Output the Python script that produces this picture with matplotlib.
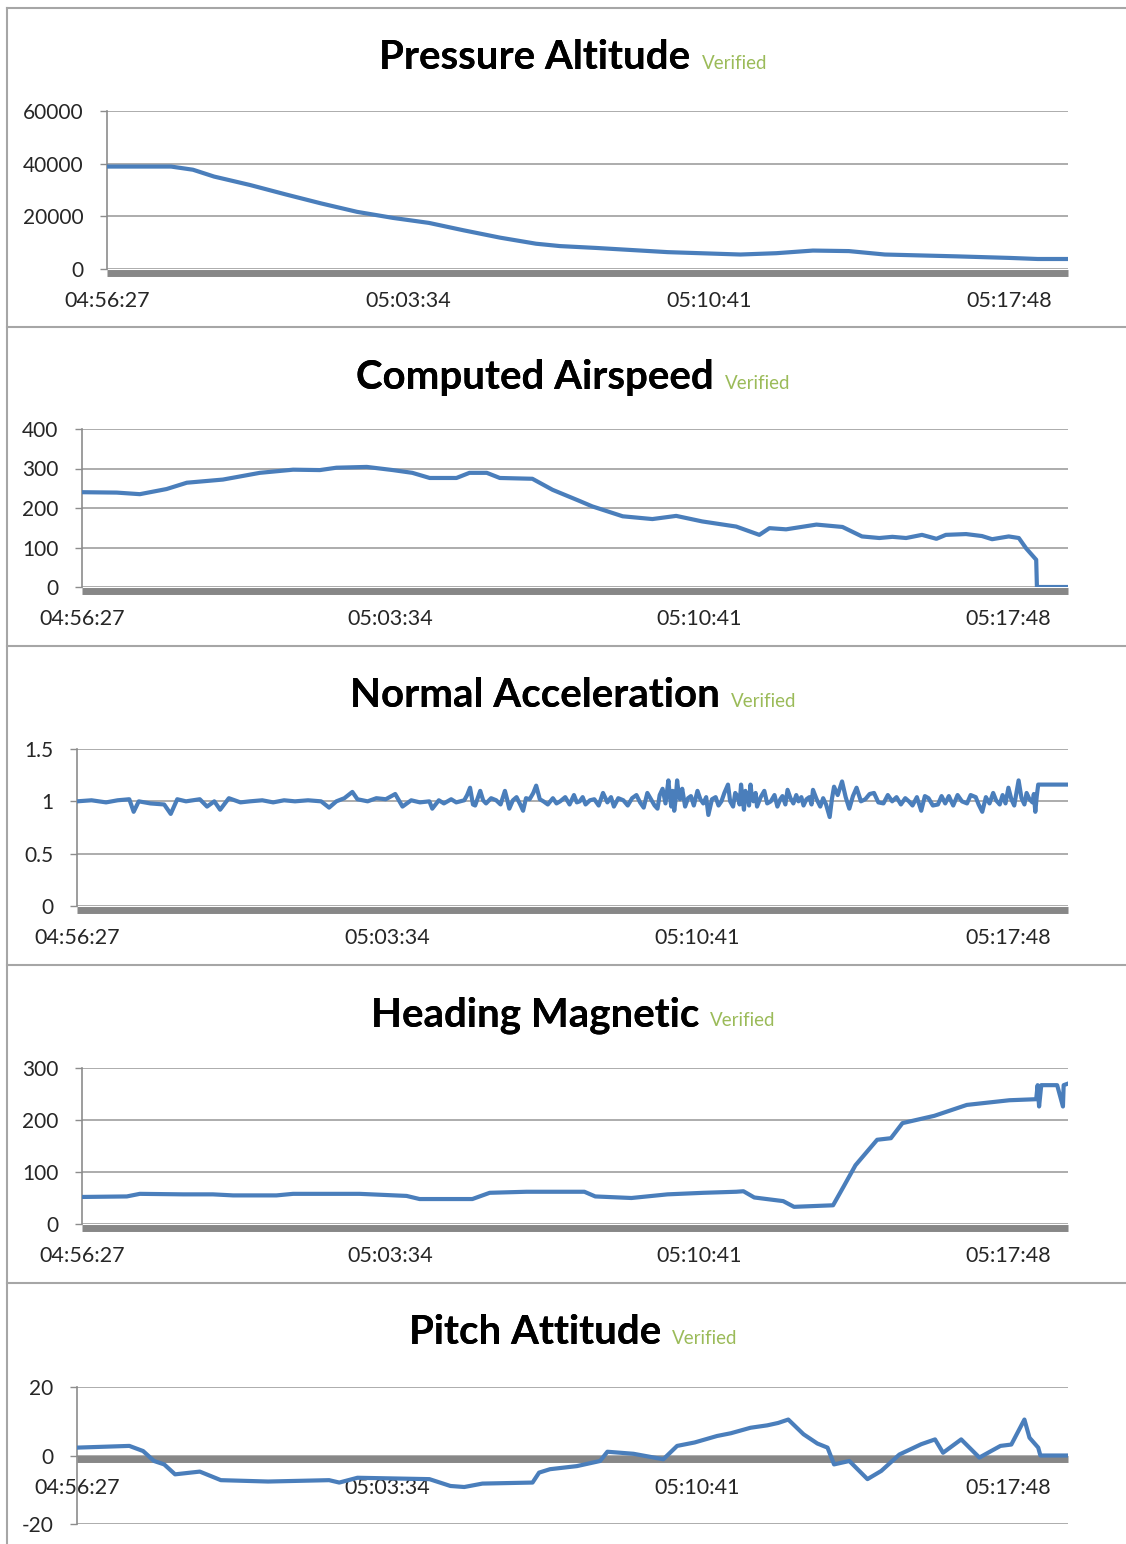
import matplotlib
matplotlib.use('Agg')
import matplotlib.pyplot as plt
from matplotlib.ticker import FuncFormatter
from matplotlib.transforms import offset_copy
from matplotlib.lines import Line2D

plt.rcParams['font.family'] = ['Lato', 'DejaVu Sans']

# seconds after 04:56:27
t_alt = [0, 91, 122, 152, 203, 254, 304, 355, 406, 457,
         506, 558, 609, 643, 694, 796, 899, 950, 1002, 1053,
         1104, 1206, 1282, 1321, 1363]
alt = [38900, 38900, 37700, 35100, 31900, 28300, 24900, 21700, 19400, 17500,
       14700, 11900, 9600, 8700, 8000, 6400, 5500, 6000, 7000, 6800,
       5500, 4800, 4200, 3800, 3800]

t_cas = [0, 48, 80, 117, 145, 195, 246, 292, 329, 352,
         394, 430, 457, 481, 518, 536, 560, 578, 623, 651,
         688, 706, 748, 789, 822, 858, 905, 937, 951, 974,
         1016, 1052, 1079, 1103, 1121, 1140, 1162, 1182, 1195, 1223,
         1245, 1259, 1282, 1296, 1306, 1320, 1321, 1364]
cas = [240, 239, 235, 248, 264, 272, 289, 297, 296, 302,
       304, 296, 289, 276, 276, 289, 289, 276, 274, 246,
       218, 204, 179, 172, 180, 166, 153, 132, 149, 146,
       158, 152, 128, 124, 127, 124, 132, 122, 132, 134,
       129, 121, 128, 124, 98, 69, 0, 0]

t_nz = [0, 20, 40, 56, 72, 78, 85, 101, 120, 129,
        138, 150, 169, 179, 189, 197, 209, 225, 238, 255,
        270, 285, 300, 318, 336, 347, 357, 368, 379, 386,
        400, 412, 425, 438, 448, 460, 472, 485, 489, 498,
        505, 515, 522, 533, 537, 541, 545, 548, 552, 555,
        559, 563, 570, 577, 583, 589, 592, 595, 600, 605,
        610, 614, 618, 623, 628, 632, 637, 642, 648, 655,
        660, 665, 672, 678, 684, 688, 692, 696, 700, 706,
        712, 718, 724, 730, 735, 739, 745, 752, 758, 764,
        770, 775, 780, 785, 790, 795, 799, 802, 806, 810,
        814, 816, 818, 820, 822, 824, 826, 828, 830, 833,
        837, 841, 845, 849, 854, 858, 862, 866, 869, 874,
        879, 883, 887, 891, 896, 899, 903, 906, 909, 912,
        914, 916, 918, 920, 923, 925, 927, 929, 931, 934,
        936, 941, 946, 950, 955, 960, 964, 968, 971, 975,
        978, 982, 986, 990, 993, 997, 1000, 1004, 1008, 1011,
        1013, 1018, 1023, 1027, 1031, 1036, 1039, 1042, 1047, 1053,
        1058, 1063, 1068, 1073, 1079, 1085, 1091, 1097, 1103, 1110,
        1116, 1122, 1128, 1134, 1140, 1145, 1150, 1156, 1162, 1167,
        1172, 1178, 1185, 1190, 1195, 1200, 1206, 1212, 1218, 1225,
        1230, 1237, 1241, 1246, 1251, 1256, 1261, 1265, 1270, 1274,
        1278, 1282, 1286, 1290, 1293, 1296, 1300, 1304, 1307, 1311,
        1315, 1317, 1319, 1321, 1323, 1364]
nz = [1.00, 1.01, 0.99, 1.01, 1.02, 0.90, 1.00, 0.98, 0.97, 0.88,
      1.02, 1.00, 1.02, 0.95, 1.00, 0.92, 1.03, 0.99, 1.00, 1.01,
      0.99, 1.01, 1.00, 1.01, 1.00, 0.94, 1.00, 1.03, 1.09, 1.02,
      1.00, 1.03, 1.02, 1.07, 0.95, 1.01, 0.99, 1.00, 0.93, 1.01,
      0.98, 1.02, 0.99, 1.01, 1.06, 1.13, 0.97, 0.96, 1.04, 1.10,
      1.01, 0.98, 1.03, 1.01, 0.97, 1.10, 1.02, 0.93, 1.01, 1.04,
      0.97, 0.91, 1.03, 1.02, 1.08, 1.15, 1.02, 1.00, 0.97, 1.03,
      0.98, 1.00, 1.04, 0.97, 1.06, 0.99, 1.00, 1.04, 0.97, 1.01,
      1.02, 0.96, 1.08, 0.99, 1.04, 0.95, 1.03, 1.01, 0.96, 1.03,
      1.06, 0.99, 0.94, 1.08, 1.02, 0.96, 0.93, 1.06, 1.12, 0.98,
      1.20, 1.05, 0.95, 1.10, 0.91, 1.02, 1.20, 1.08, 1.02, 1.12,
      0.95, 1.03, 1.05, 0.96, 1.10, 1.02, 0.98, 1.04, 0.87, 1.02,
      1.04, 0.96, 1.00, 1.08, 1.16, 1.00, 0.95, 1.08, 1.05, 0.97,
      1.16, 1.03, 0.92, 1.10, 1.05, 0.96, 1.16, 1.04, 1.00, 1.08,
      0.95, 1.04, 1.10, 0.98, 1.00, 1.06, 0.95, 1.02, 1.05, 0.97,
      1.11, 1.03, 0.98, 1.06, 1.00, 1.04, 0.96, 1.02, 1.04, 0.97,
      1.11, 1.02, 0.95, 1.03, 0.97, 0.85, 1.02, 1.14, 1.06, 1.19,
      1.04, 0.93, 1.05, 1.13, 1.00, 1.02, 1.07, 1.08, 0.99, 0.98,
      1.06, 1.00, 1.04, 0.97, 1.03, 1.00, 0.96, 1.04, 0.91, 1.05,
      1.03, 0.96, 0.97, 1.05, 0.98, 1.05, 0.96, 1.06, 1.00, 0.98,
      1.06, 1.04, 0.97, 0.90, 1.04, 0.98, 1.08, 1.01, 0.97, 1.06,
      0.98, 1.13, 1.02, 0.96, 1.08, 1.20, 1.03, 0.97, 1.08, 1.02,
      0.99, 1.07, 0.90, 1.05, 1.16, 1.16]

t_hdg = [0, 62, 80, 140, 181, 209, 269, 292, 384, 449,
         467, 540, 564, 615, 661, 695, 710, 760, 810, 860,
         905, 915, 930, 970, 985, 1039, 1054, 1070, 1100, 1119,
         1135, 1179, 1224, 1283, 1320, 1322, 1324, 1327, 1329, 1349,
         1357, 1358, 1364]
hdg = [52, 53, 58, 57, 57, 55, 55, 58, 58, 54,
       48, 48, 60, 62, 62, 62, 53, 50, 57, 60,
       62, 63, 51, 44, 33, 36, 73, 113, 162, 165,
       194, 208, 229, 238, 240, 267, 226, 267, 267, 267,
       226, 267, 270]

t_pitch = [0, 72, 91, 106, 120, 135, 169, 198, 263, 347,
           361, 386, 485, 514, 533, 558, 627, 636, 651, 688,
           720, 730, 766, 807, 826, 850, 881, 900, 927, 950,
           965, 979, 1000, 1019, 1033, 1042, 1063, 1088, 1107, 1132,
           1162, 1181, 1192, 1217, 1242, 1271, 1286, 1304, 1311, 1323,
           1326, 1364]
pitch = [2.3, 2.8, 1.3, -1.6, -2.6, -5.5, -4.7, -7.2, -7.6, -7.2,
         -7.9, -6.5, -6.9, -8.9, -9.2, -8.2, -7.9, -5.0, -4.0, -3.1,
         -1.6, 1.1, 0.5, -1.1, 2.8, 3.8, 5.7, 6.5, 8.1, 8.8,
         9.5, 10.5, 6.2, 3.5, 2.3, -2.6, -1.6, -6.9, -4.5, 0.3,
         3.3, 4.7, 0.8, 4.7, -0.6, 2.8, 3.2, 10.5, 5.2, 2.3,
         0, 0]

titles = ['Pressure Altitude', 'Computed Airspeed', 'Normal Acceleration',
          'Heading Magnetic', 'Pitch Attitude']
yticks = [[0, 20000, 40000, 60000], [0, 100, 200, 300, 400], [0, 0.5, 1, 1.5],
          [0, 100, 200, 300], [-20, 0, 20]]
time_ticks = [0, 427, 854, 1281]

BLUE = '#4a7ebb'
W, H = 1126, 1544


def hms(s, pos=None):
    t = int(round(4 * 3600 + 56 * 60 + 27 + s))
    return f'{t // 3600:02d}:{t % 3600 // 60:02d}:{t % 60:02d}'


fig = plt.figure(figsize=(W / 100, H / 100), dpi=100)

# axes boxes in pixels: left, right, top, bottom
boxes = [(107, 1068, 111, 269), (82, 1068, 429, 587), (77, 1068, 749, 906),
         (82, 1068, 1068, 1224), (77, 1068, 1387, 1524)]
title_base = [69, 389, 707, 1026, 1344]
series = [(t_alt, alt), (t_cas, cas), (t_nz, nz), (t_hdg, hdg), (t_pitch, pitch)]

for i, (xs, ys) in enumerate(series):
    l, r, top, bot = boxes[i]
    ax = fig.add_axes([l / W, 1 - bot / H, (r - l) / W, (bot - top) / H])
    ax.plot(xs, ys, color=BLUE, lw=3.0, zorder=4, solid_joinstyle='round')
    ax.set_xlim(0, 1364)
    ax.set_ylim(yticks[i][0], yticks[i][-1])
    ax.set_yticks(yticks[i])
    ax.yaxis.set_major_formatter(FuncFormatter(lambda v, p: f'{v:g}'))
    ax.set_xticks(time_ticks)
    ax.xaxis.set_major_formatter(FuncFormatter(hms))
    ax.grid(axis='y', color='#a6a6a6', lw=1.3)
    ax.set_axisbelow(True)
    for s in ['top', 'right']:
        ax.spines[s].set_visible(False)
    ax.spines['left'].set_color('#8c8c8c')
    ax.spines['left'].set_linewidth(1.2)
    ax.spines['bottom'].set_color('none')
    if yticks[i][0] < 0:
        ax.spines['bottom'].set_position(('data', 0))
    # thick horizontal axis band just under zero
    band_tr = offset_copy(ax.get_yaxis_transform(), fig=fig, y=-3.5, units='dots')
    ax.plot([0, 1], [0, 0], transform=band_tr, color='#878787', lw=5,
            solid_capstyle='butt', zorder=3, clip_on=False)
    ax.tick_params(axis='x', length=0, pad=16, labelsize=15.5, labelcolor='#262626')
    ax.tick_params(axis='y', length=5, width=1, color='#8c8c8c', pad=12,
                   labelsize=15, labelcolor='#262626')

    ttl = fig.text(535 / W, 1 - title_base[i] / H, titles[i], ha='center',
                   va='baseline', fontsize=29, fontweight='bold', color='black')
    fig.add_artist(ttl)
    plt.annotate('Verified', xy=(1, 1 - title_base[i] / H),
                 xycoords=(ttl, 'figure fraction'), xytext=(8, 0),
                 textcoords='offset points', va='baseline', ha='left',
                 fontsize=13.5, color='#9bbb59', annotation_clip=False)

# panel frame lines
for yy in [8, 327, 646, 965, 1283]:
    fig.add_artist(Line2D([7 / W, 1], [1 - yy / H] * 2, transform=fig.transFigure,
                          color='#a6a6a6', lw=1.5))
fig.add_artist(Line2D([7 / W, 7 / W], [1 - 8 / H, 0], transform=fig.transFigure,
                      color='#a6a6a6', lw=1.5))

fig.savefig('out.png', dpi=100)
